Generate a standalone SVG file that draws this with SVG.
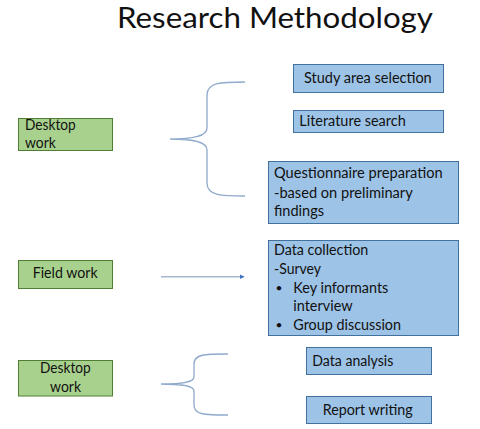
<svg xmlns="http://www.w3.org/2000/svg" width="480" height="429" viewBox="0 0 480 429">
<defs>
<style>
text{font-family:Lato,"Open Sans","Liberation Sans",sans-serif;font-size:14.5px;fill:#111}
.title{font-size:29px}
.bullet{font-size:12px}
.blue{fill:#9DC3E6;stroke:#41719C;stroke-width:1}
.green{fill:#A9D18E;stroke:#507E32;stroke-width:1}
.brace{fill:none;stroke:#8FAACC;stroke-width:1.3}
.arrow{fill:none;stroke:#A6B6CC;stroke-width:1.5}
</style>
<marker id="ah" viewBox="0 0 10 10" refX="9" refY="5" markerWidth="5" markerHeight="5" orient="auto" markerUnits="userSpaceOnUse"><path d="M0,0 L10,5 L0,10 z" fill="#4472C4"/></marker>
</defs>
<rect width="480" height="429" fill="#fff"/>
<text class="title" x="117" y="28" textLength="316" lengthAdjust="spacingAndGlyphs">Research Methodology</text>

<g id="desktop1"><rect class="green" x="18.5" y="118.5" width="94" height="32"/>
<text x="25" y="130" textLength="50.7" lengthAdjust="spacingAndGlyphs">Desktop</text>
<text x="25" y="147.7" textLength="30.7" lengthAdjust="spacingAndGlyphs">work</text></g>

<g id="fieldwork"><rect class="green" x="18.5" y="260.5" width="94" height="28"/>
<text x="32.7" y="278.3" textLength="65" lengthAdjust="spacingAndGlyphs">Field work</text></g>

<g id="desktop2"><rect class="green" x="18.5" y="360.5" width="94" height="35.5"/>
<text x="40" y="373.3" textLength="50.7" lengthAdjust="spacingAndGlyphs">Desktop</text>
<text x="50" y="391.7" textLength="31" lengthAdjust="spacingAndGlyphs">work</text></g>

<g id="studyarea"><rect class="blue" x="293.5" y="64.5" width="150" height="28"/>
<text x="304" y="83.3" textLength="127.7" lengthAdjust="spacingAndGlyphs">Study area selection</text></g>

<g id="literature"><rect class="blue" x="293.5" y="110.5" width="150" height="22"/>
<text x="299.3" y="126" textLength="106.4" lengthAdjust="spacingAndGlyphs">Literature search</text></g>

<g id="questionnaire"><rect class="blue" x="268.5" y="161.5" width="190" height="62"/>
<text x="274" y="178.3" textLength="168.7" lengthAdjust="spacingAndGlyphs">Questionnaire preparation</text>
<text x="274" y="197.5" textLength="138.7" lengthAdjust="spacingAndGlyphs">-based on preliminary</text>
<text x="274" y="215.5" textLength="50" lengthAdjust="spacingAndGlyphs">findings</text></g>

<g id="datacollection"><rect class="blue" x="268.5" y="240.5" width="190" height="95"/>
<text x="274" y="255" textLength="94.3" lengthAdjust="spacingAndGlyphs">Data collection</text>
<text x="274" y="274" textLength="47" lengthAdjust="spacingAndGlyphs">-Survey</text>
<text class="bullet" x="275.5" y="291.5">•</text>
<text x="293.3" y="292.5" textLength="95" lengthAdjust="spacingAndGlyphs">Key informants</text>
<text x="293.3" y="311" textLength="59.3" lengthAdjust="spacingAndGlyphs">interview</text>
<text class="bullet" x="275.5" y="329">•</text>
<text x="293.3" y="330" textLength="107.7" lengthAdjust="spacingAndGlyphs">Group discussion</text></g>

<g id="dataanalysis"><rect class="blue" x="306.5" y="347.5" width="125" height="27"/>
<text x="312.3" y="366" textLength="81" lengthAdjust="spacingAndGlyphs">Data analysis</text></g>

<g id="report"><rect class="blue" x="306.5" y="396.5" width="125" height="27"/>
<text x="322.7" y="415" textLength="90" lengthAdjust="spacingAndGlyphs">Report writing</text></g>

<g id="connectors">
<path class="brace" d="M245,82 C222,82 207,82 207,95 L207,128 C207,136 195,139 170,139 C195,139 207,142 207,150 L207,183 C207,196 222,196 245,196"/>
<line class="arrow" x1="161" y1="276.7" x2="244" y2="276.7" marker-end="url(#ah)"/>
<path class="brace" d="M228,354 C205,354 194,354 194,364 L194,377 C194,382 184,384 161,384 C184,384 194,386 194,391 L194,405 C194,415 205,415 228,415"/>
</g>
</svg>
